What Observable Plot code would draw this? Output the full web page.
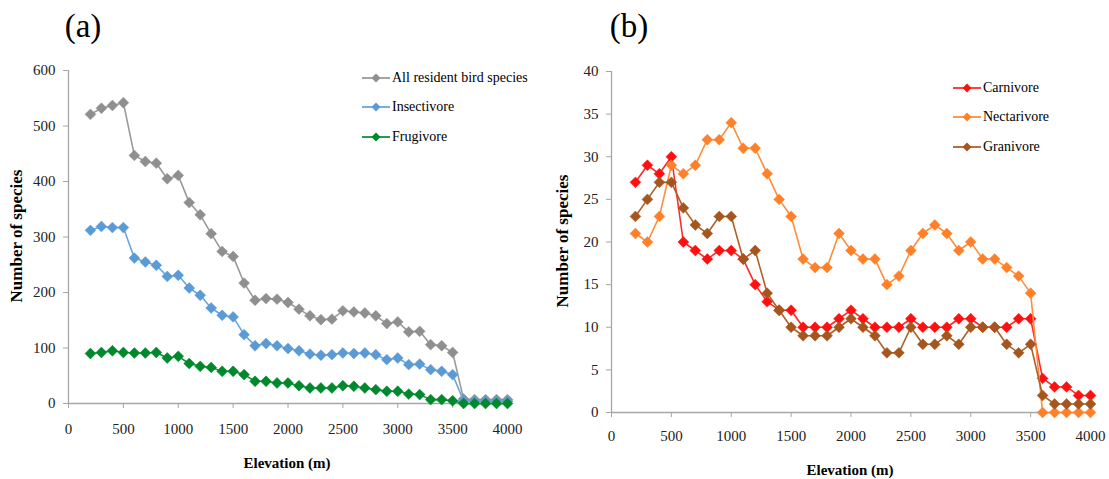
<!DOCTYPE html>
<html><head><meta charset="utf-8">
<script src="https://cdn.jsdelivr.net/npm/d3@7"></script>
<script src="https://cdn.jsdelivr.net/npm/@observablehq/plot@0.6"></script>
<style>
body{margin:0;background:#fff;color:#000;}
body, svg, svg text, .legend, .legend span, .abs{font-family:"Liberation Serif","Times New Roman",Tinos,serif !important;}
#wrap{position:relative;width:1109px;height:479px;overflow:hidden;}
.panel{position:absolute;top:0;}
.abs{position:absolute;white-space:nowrap;transform:translate(-50%,-50%);}
.title{font-size:33px;}
.axt{font-size:15px;font-weight:bold;}
.ayt{font-size:17px;font-weight:bold;transform:translate(-50%,-50%) rotate(-90deg);}
.legend{position:absolute;font-size:14px;}
.legend .row{display:flex;align-items:center;height:29.5px;}
.legend svg{margin-right:2px;}
</style></head><body>
<div id="wrap"></div>
<script>
// ---- data ----
const elevation = [200,300,400,500,600,700,800,900,1000,1100,1200,1300,1400,1500,1600,1700,1800,1900,2000,2100,2200,2300,2400,2500,2600,2700,2800,2900,3000,3100,3200,3300,3400,3500,3600,3700,3800,3900,4000];

const seriesNamesA = ["All resident bird species","Insectivore","Frugivore"];
const allResident = [521,532,537,542,447,436,433,405,411,362,340,306,274,265,217,186,189,188,182,170,158,151,152,167,165,163,158,144,147,129,130,106,104,92,8,7,7,7,7];
const insectivore = [312,319,317,317,262,255,249,229,231,208,195,172,159,156,124,104,108,104,99,95,89,87,88,91,90,91,88,79,82,70,71,61,58,52,5,4,4,4,4];
const frugivore   = [90,92,95,92,91,91,92,82,85,72,67,65,58,58,52,40,40,37,37,32,28,28,28,32,31,28,25,22,22,17,16,7,7,5,0,0,0,0,0];

const seriesNamesB = ["Carnivore","Nectarivore","Granivore"];
const carnivore   = [27,29,28,30,20,19,18,19,19,18,15,13,12,12,10,10,10,11,12,11,10,10,10,11,10,10,10,11,11,10,10,10,11,11,4,3,3,2,2];
const nectarivore = [21,20,23,29,28,29,32,32,34,31,31,28,25,23,18,17,17,21,19,18,18,15,16,19,21,22,21,19,20,18,18,17,16,14,0,0,0,0,0];
const granivore   = [23,25,27,27,24,22,21,23,23,18,19,14,12,10,9,9,9,10,11,10,9,7,7,10,8,8,9,8,10,10,10,8,7,8,2,1,1,1,1];

const xTicks = [0,500,1000,1500,2000,2500,3000,3500,4000];
const yTicksA = [0,100,200,300,400,500,600];
const yTicksB = [0,5,10,15,20,25,30,35,40];

const colorsA = ["#8f8f8f","#5b9bd5","#00892c"];
const lineColorsA = ["#9a9a9a","#6aa6dc","#11913a"];
const colorsB = ["#ff1010","#ff8028","#a5561e"];
const lineColorsB = ["#ff2a2a","#ff8d3c","#ad6128"];

function tidy(names, arrays) {
  const rows = [];
  names.forEach((n, i) => arrays[i].forEach((v, j) => rows.push({name: n, elev: elevation[j], value: v})));
  return rows;
}

const wrap = document.getElementById("wrap");

function makePanel({names, arrays, colors, lineColors, yTicks, left, width, marginLeft, marginRight, marginTop, marginBottom, xPad}) {
  const data = tidy(names, arrays);
  const chart = Plot.plot({
    width, height: 479,
    marginLeft, marginRight, marginTop, marginBottom,
    style: {fontFamily: "'Liberation Serif', serif", fontSize: "15px", color: "#222", background: "transparent"},
    x: {domain: [0, 4000]},
    y: {domain: [yTicks[0], yTicks[yTicks.length - 1]]},
    color: {domain: names, range: colors},
    marks: [
      Plot.ruleY([0], {stroke: "#a6a6a6", strokeWidth: 1.3}),
      Plot.ruleX([0], {stroke: "#a6a6a6", strokeWidth: 1.3}),
      Plot.axisX({ticks: xTicks, tickSize: 5, tickPadding: xPad, stroke: "#a6a6a6", fill: "#222", fontSize: 15, label: null, tickFormat: d => String(d)}),
      Plot.axisY({ticks: yTicks, tickSize: 5, tickPadding: 8, stroke: "#a6a6a6", fill: "#222", fontSize: 15, label: null, tickFormat: d => String(d)}),
      ...names.map((n, i) => [
        Plot.line(data.filter(d => d.name === n), {x: "elev", y: "value", stroke: lineColors[i], strokeWidth: 1.6}),
        Plot.dot(data.filter(d => d.name === n), {x: "elev", y: "value", fill: colors[i], stroke: colors[i], strokeWidth: 0.5, symbol: "diamond2", r: 4.9})
      ]).flat()
    ]
  });
  chart.classList.add("panel");
  chart.style.left = left + "px";
  wrap.appendChild(chart);
}

makePanel({names: seriesNamesA, arrays: [allResident, insectivore, frugivore], colors: colorsA, lineColors: lineColorsA,
  yTicks: yTicksA, left: 0, width: 545, marginLeft: 68, marginRight: 38, marginTop: 70, marginBottom: 76, xPad: 15});
makePanel({names: seriesNamesB, arrays: [carnivore, nectarivore, granivore], colors: colorsB, lineColors: lineColorsB,
  yTicks: yTicksB, left: 555, width: 554, marginLeft: 56, marginRight: 19, marginTop: 71, marginBottom: 67, xPad: 13});

function addText(cls, text, x, y) {
  const d = document.createElement("div");
  d.className = "abs " + cls;
  d.textContent = text;
  d.style.left = x + "px";
  d.style.top = y + "px";
  wrap.appendChild(d);
}
addText("title", "(a)", 83, 26);
addText("title", "(b)", 629, 26);
addText("axt", "Elevation (m)", 287, 463);
addText("axt", "Elevation (m)", 850, 470);
addText("ayt", "Number of species", 17, 236);
addText("ayt", "Number of species", 563, 241);

function addLegend(names, colors, lineColors, x, y) {
  const lg = document.createElement("div");
  lg.className = "legend";
  lg.style.left = x + "px";
  lg.style.top = y + "px";
  names.forEach((n, i) => {
    const row = document.createElement("div");
    row.className = "row";
    row.innerHTML = `<svg width="28" height="12"><line x1="0" x2="28" y1="6" y2="6" stroke="${lineColors[i]}" stroke-width="1.8"/><path d="M14,1.5L18.5,6L14,10.5L9.5,6Z" fill="${colors[i]}"/></svg><span>${n}</span>`;
    lg.appendChild(row);
  });
  wrap.appendChild(lg);
}
addLegend(seriesNamesA, colorsA, lineColorsA, 362, 63);
addLegend(seriesNamesB, colorsB, lineColorsB, 953, 73);
</script>
</body></html>
